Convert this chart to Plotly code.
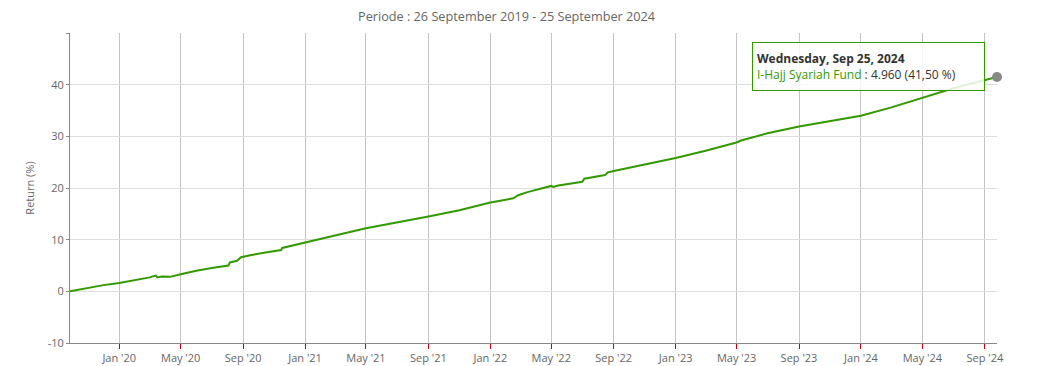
import plotly.graph_objects as go

dates = [
    "2019-09-26", "2019-11-01", "2019-12-01", "2020-01-01", "2020-02-01", "2020-03-01",
    "2020-03-13", "2020-03-16", "2020-03-25", "2020-04-10", "2020-05-01", "2020-06-01",
    "2020-07-01", "2020-08-03", "2020-08-06", "2020-08-20", "2020-08-28", "2020-09-15",
    "2020-10-15", "2020-11-15", "2020-11-17", "2021-01-01", "2021-03-01", "2021-05-01",
    "2021-07-01", "2021-09-01", "2021-11-01", "2022-01-01", "2022-02-15", "2022-02-25",
    "2022-03-15", "2022-05-01", "2022-05-05", "2022-05-15", "2022-07-01", "2022-07-05",
    "2022-08-15", "2022-08-20", "2022-09-01", "2022-11-01", "2023-01-01", "2023-03-01",
    "2023-05-01", "2023-05-10", "2023-07-01", "2023-09-01", "2023-11-01", "2024-01-01",
    "2024-03-01", "2024-05-01", "2024-07-01", "2024-09-25",
]
returns = [
    0.0, 0.65, 1.2, 1.6, 2.15, 2.7,
    3.05, 2.7, 2.85, 2.8, 3.3, 4.0,
    4.5, 5.0, 5.6, 5.9, 6.6, 7.0,
    7.5, 8.0, 8.4, 9.5, 10.8, 12.2,
    13.3, 14.5, 15.7, 17.2, 18.0, 18.6,
    19.2, 20.4, 20.2, 20.5, 21.2, 21.8,
    22.5, 23.0, 23.3, 24.5, 25.8, 27.2,
    28.8, 29.2, 30.6, 31.9, 33.0, 34.0,
    35.6, 37.5, 39.3, 41.5,
]
series_name = "I-Hajj Syariah Fund"
last_nav = "4.960"
last_ret = "41,50 %"
last_label = "Wednesday, Sep 25, 2024"
y_ticks = [-10, 0, 10, 20, 30, 40, 50]
y_ticktext = ["-10", "0", "10", "20", "30", "40", ""]

GREEN = "#339900"
FONT = "Open Sans, DejaVu Sans, sans-serif"

fig = go.Figure()
fig.add_trace(go.Scatter(
    x=dates, y=returns, mode="lines", name=series_name,
    line=dict(color=GREEN, width=2), hoverinfo="skip",
))
fig.add_trace(go.Scatter(
    x=[dates[-1]], y=[returns[-1]], mode="markers", cliponaxis=False,
    marker=dict(color="#888888", size=10), hoverinfo="skip",
))

fig.update_layout(
    width=1054, height=358,
    margin=dict(l=62, r=65, t=25, b=23),
    paper_bgcolor="white", plot_bgcolor="white",
    showlegend=False,
    font=dict(family=FONT, size=11, color="#666666"),
    xaxis=dict(
        type="date", range=[dates[0], dates[-1]], automargin=False,
        tick0="2020-01-01", dtick="M4", tickformat="%b '%y",
        showgrid=True, gridcolor="#c4c4c4", gridwidth=1,
        showline=True, linecolor="#888888", linewidth=1,
        ticks="outside", ticklen=5, tickcolor="#cc0000", tickwidth=1,
        tickfont=dict(size=11, color="#666666"),
        zeroline=False,
    ),
    yaxis=dict(
        range=[-10, 50], tickvals=y_ticks, ticktext=y_ticktext, automargin=False,
        showgrid=True, gridcolor="#dddddd", gridwidth=1,
        showline=True, linecolor="#888888", linewidth=1,
        ticks="outside", ticklen=3, tickcolor="#888888",
        tickfont=dict(size=11, color="#666666"),
        zeroline=False,
        title=dict(text="Return (%)", font=dict(size=11, color="#666666"), standoff=10),
    ),
    annotations=[
        dict(
            text="Periode : 26 September 2019 - 25 September 2024",
            xref="paper", yref="paper", x=0.471, y=1.0, yshift=17,
            xanchor="center", yanchor="middle", showarrow=False,
            font=dict(size=12.7, color="#666666"),
        ),
        dict(
            text=(f"<b>{last_label}</b><br>"
                  f"<span style='color:{GREEN}'>{series_name}</span> : {last_nav} ({last_ret})"),
            xref="paper", yref="paper", x=0.861, y=0.892,
            xanchor="center", yanchor="middle", showarrow=False,
            align="left", width=223, height=39, borderpad=4,
            bgcolor="rgba(255,255,255,0.85)", bordercolor=GREEN, borderwidth=1,
            font=dict(size=12, color="#333333"),
        ),
    ],
)

fig.write_html("out.html")
